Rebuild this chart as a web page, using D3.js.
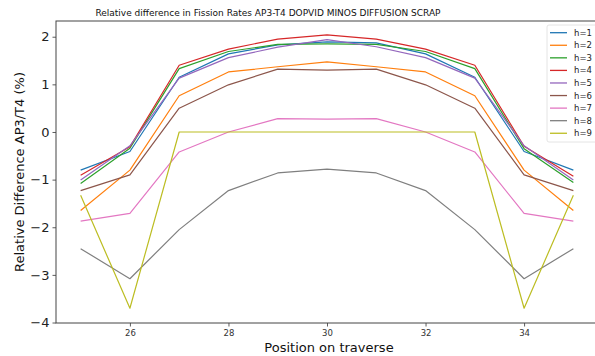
<!DOCTYPE html>
<html>
<head>
<meta charset="utf-8">
<script src="https://cdn.jsdelivr.net/npm/d3@7"></script>
<style>
  html, body { margin: 0; padding: 0; background: #fff; }
  svg { display: block; font-family: "DejaVu Sans", sans-serif; }
</style>
</head>
<body>
<svg id="chart" width="595" height="356"></svg>
<script>
// Positions along the traverse
const positions = [25, 26, 27, 28, 29, 30, 31, 32, 33, 34, 35];

// Relative difference AP3/T4 (%) per h value
const h1 = [-0.80, -0.41, 1.15, 1.64, 1.83, 1.89, 1.87, 1.64, 1.15, -0.41, -0.80];
const h2 = [-1.65, -0.80, 0.76, 1.26, 1.37, 1.47, 1.37, 1.26, 0.76, -0.80, -1.65];
const h3 = [-1.08, -0.34, 1.33, 1.69, 1.84, 1.85, 1.84, 1.69, 1.33, -0.35, -1.06];
const h4 = [-0.91, -0.31, 1.40, 1.74, 1.95, 2.04, 1.95, 1.74, 1.40, -0.30, -0.93];
const h5 = [-1.01, -0.29, 1.13, 1.56, 1.78, 1.94, 1.79, 1.56, 1.13, -0.29, -1.01];
const h6 = [-1.23, -0.90, 0.50, 0.99, 1.32, 1.30, 1.32, 0.99, 0.50, -0.90, -1.23];
const h7 = [-1.87, -1.71, -0.42, 0.00, 0.28, 0.27, 0.28, 0.00, -0.42, -1.71, -1.87];
const h8 = [-2.45, -3.08, -2.05, -1.23, -0.86, -0.78, -0.86, -1.23, -2.05, -3.08, -2.45];
const h9 = [-1.33, -3.70, 0.00, 0.00, 0.00, 0.00, 0.00, 0.00, 0.00, -3.70, -1.33];

const seriesNames = ["h=1", "h=2", "h=3", "h=4", "h=5", "h=6", "h=7", "h=8", "h=9"];
const seriesValues = [h1, h2, h3, h4, h5, h6, h7, h8, h9];
const seriesColors = ["#1f77b4", "#ff7f0e", "#2ca02c", "#d62728", "#9467bd",
                      "#8c564b", "#e377c2", "#7f7f7f", "#bcbd22"];

const xTicks = [26, 28, 30, 32, 34];
const yTicks = [-4, -3, -2, -1, 0, 1, 2];

const titleText = "Relative difference in Fission Rates AP3-T4 DOPVID MINOS DIFFUSION SCRAP";
const xLabel = "Position on traverse";
const yLabel = "Relative Difference AP3/T4 (%)";

const svg = d3.select("#chart");
const plot = { left: 56, right: 598, top: 21, bottom: 323 };

const x = d3.scaleLinear().domain([24.5, 35.5]).range([plot.left, plot.right]);
const y = d3.scaleLinear().domain([-4.01, 2.33]).range([plot.bottom, plot.top]);

const fmt = d => (d < 0 ? "\u2212" + Math.abs(d) : String(d));

// Lines
const line = d3.line().x((d, i) => x(positions[i])).y(d => y(d));
svg.append("g")
  .selectAll("path")
  .data(seriesValues)
  .join("path")
  .attr("d", d => line(d))
  .attr("fill", "none")
  .attr("stroke", (d, i) => seriesColors[i])
  .attr("stroke-width", 1.2)
  .attr("stroke-linejoin", "round");

// Axes
const xAxis = svg.append("g")
  .attr("transform", `translate(0,${plot.bottom})`)
  .call(d3.axisBottom(x).tickValues(xTicks).tickSize(3.5).tickPadding(3).tickFormat(d => d));
xAxis.selectAll("text").attr("font-size", 8.5).attr("fill", "#333");

const yAxis = svg.append("g")
  .attr("transform", `translate(${plot.left},0)`)
  .call(d3.axisLeft(y).tickValues(yTicks).tickSize(3.5).tickPadding(3).tickFormat(fmt));
yAxis.selectAll("text").attr("font-size", 13).attr("fill", "#222");

[xAxis, yAxis].forEach(g => {
  g.select(".domain").remove();
  g.selectAll("line").attr("stroke", "#333").attr("stroke-width", 0.8);
  g.attr("font-family", "DejaVu Sans, sans-serif");
});

// Frame
svg.append("rect")
  .attr("x", plot.left).attr("y", plot.top)
  .attr("width", plot.right - plot.left).attr("height", plot.bottom - plot.top)
  .attr("fill", "none").attr("stroke", "#444").attr("stroke-width", 1);

// Title and axis labels
svg.append("text")
  .attr("x", 268).attr("y", 16)
  .attr("text-anchor", "middle").attr("font-size", 9).attr("fill", "#111")
  .text(titleText);

svg.append("text")
  .attr("x", 329).attr("y", 352)
  .attr("text-anchor", "middle").attr("font-size", 13).attr("fill", "#111")
  .text(xLabel);

svg.append("text")
  .attr("transform", `translate(24,${(plot.top + plot.bottom) / 2}) rotate(-90)`)
  .attr("text-anchor", "middle").attr("font-size", 13).attr("fill", "#111")
  .text(yLabel);

// Legend
const legend = svg.append("g").attr("transform", "translate(547,25)");
legend.append("rect")
  .attr("x", 0).attr("y", 0).attr("width", 60).attr("height", 117)
  .attr("rx", 2).attr("fill", "#fff").attr("fill-opacity", 0.8)
  .attr("stroke", "#ddd").attr("stroke-width", 0.8);
const items = legend.selectAll("g.item")
  .data(seriesNames)
  .join("g")
  .attr("class", "item")
  .attr("transform", (d, i) => `translate(0,${7.7 + i * 12.57})`);
items.append("line")
  .attr("x1", 3).attr("x2", 20)
  .attr("stroke", (d, i) => seriesColors[i]).attr("stroke-width", 1.3);
items.append("text")
  .attr("x", 27).attr("y", 3)
  .attr("font-size", 8.5).attr("fill", "#222")
  .text(d => d);
</script>
</body>
</html>
